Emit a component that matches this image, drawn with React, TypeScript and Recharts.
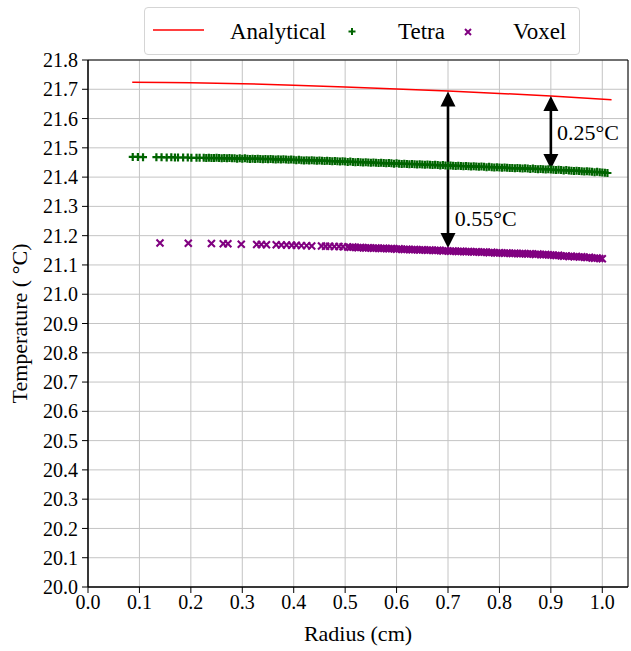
import React from 'react'
import {
  ComposedChart, Line, Scatter, XAxis, YAxis, CartesianGrid,
  ReferenceLine, ReferenceArea, ReferenceDot,
} from 'recharts'

// Temperature profile vs radius : analytical solution against the tetra and voxel meshes.

const FONT = '"Liberation Serif", "Times New Roman", Times, serif'
const RED = '#ff0000'
const GREEN = '#006400'
const PURPLE = '#800080'

const xTicks = [0, 0.1, 0.2, 0.3, 0.4, 0.5, 0.6, 0.7, 0.8, 0.9, 1.0]
const yTicks = [
  20.0, 20.1, 20.2, 20.3, 20.4, 20.5, 20.6, 20.7, 20.8, 20.9,
  21.0, 21.1, 21.2, 21.3, 21.4, 21.5, 21.6, 21.7, 21.8,
]

// [radius (cm), temperature (°C)]
const analytical: [number, number][] = [
  [0.086, 21.724], [0.15, 21.723], [0.2, 21.722], [0.3, 21.719], [0.4, 21.714], [0.5, 21.708],
  [0.6, 21.701], [0.7, 21.694], [0.8, 21.686], [0.9, 21.677], [1.018, 21.664],
]

const tetra: [number, number][] = [
  [0.087, 21.469], [0.097, 21.469], [0.107, 21.468], [0.133, 21.468], [0.143, 21.468], [0.153, 21.467],
  [0.162, 21.468], [0.169, 21.467], [0.175, 21.467], [0.185, 21.467], [0.194, 21.467], [0.201, 21.466],
  [0.211, 21.466], [0.217, 21.466],
  [0.225, 21.466], [0.23, 21.465], [0.235, 21.466], [0.24, 21.465], [0.245, 21.465], [0.25, 21.466], [0.255, 21.465], [0.26, 21.464], [0.265, 21.465], [0.27, 21.464],
  [0.275, 21.465], [0.28, 21.464], [0.285, 21.464], [0.29, 21.463], [0.295, 21.464], [0.3, 21.463], [0.305, 21.464], [0.31, 21.463], [0.315, 21.462], [0.32, 21.463],
  [0.325, 21.462], [0.33, 21.463], [0.335, 21.462], [0.34, 21.461], [0.345, 21.462], [0.35, 21.461], [0.355, 21.462], [0.36, 21.461], [0.365, 21.46], [0.37, 21.461],
  [0.375, 21.46], [0.38, 21.461], [0.385, 21.46], [0.39, 21.459], [0.395, 21.46], [0.4, 21.459], [0.405, 21.458], [0.41, 21.459], [0.415, 21.458], [0.42, 21.457],
  [0.425, 21.458], [0.43, 21.457], [0.435, 21.458], [0.44, 21.457], [0.445, 21.456], [0.45, 21.457], [0.455, 21.456], [0.46, 21.455], [0.465, 21.456], [0.47, 21.455],
  [0.475, 21.454], [0.48, 21.455], [0.485, 21.454], [0.49, 21.453], [0.495, 21.454], [0.5, 21.453], [0.505, 21.452], [0.51, 21.453], [0.515, 21.452], [0.52, 21.451],
  [0.525, 21.452], [0.53, 21.451], [0.535, 21.45], [0.54, 21.451], [0.545, 21.45], [0.55, 21.449], [0.555, 21.45], [0.56, 21.449], [0.565, 21.448], [0.57, 21.449],
  [0.575, 21.448], [0.58, 21.447], [0.585, 21.448], [0.59, 21.447], [0.595, 21.446], [0.6, 21.447], [0.605, 21.446], [0.61, 21.445], [0.615, 21.446], [0.62, 21.445],
  [0.625, 21.444], [0.63, 21.445], [0.635, 21.444], [0.64, 21.443], [0.645, 21.444], [0.65, 21.443], [0.655, 21.442], [0.66, 21.443], [0.665, 21.442], [0.67, 21.441],
  [0.675, 21.442], [0.68, 21.441], [0.685, 21.44], [0.69, 21.441], [0.695, 21.44], [0.7, 21.439], [0.705, 21.44], [0.71, 21.439], [0.715, 21.438], [0.72, 21.439],
  [0.725, 21.438], [0.73, 21.437], [0.735, 21.438], [0.74, 21.437], [0.745, 21.436], [0.75, 21.437], [0.755, 21.436], [0.76, 21.435], [0.765, 21.436], [0.77, 21.435],
  [0.775, 21.434], [0.78, 21.435], [0.785, 21.434], [0.79, 21.433], [0.795, 21.434], [0.8, 21.433], [0.805, 21.432], [0.81, 21.433], [0.815, 21.432], [0.82, 21.431],
  [0.825, 21.431], [0.83, 21.43], [0.835, 21.431], [0.84, 21.43], [0.845, 21.429], [0.85, 21.43], [0.855, 21.429], [0.86, 21.428], [0.865, 21.429], [0.87, 21.428],
  [0.875, 21.427], [0.88, 21.428], [0.885, 21.427], [0.89, 21.426], [0.895, 21.427], [0.9, 21.426], [0.905, 21.425], [0.91, 21.424], [0.915, 21.425], [0.92, 21.424],
  [0.925, 21.423], [0.93, 21.424], [0.935, 21.423], [0.94, 21.422], [0.945, 21.421], [0.95, 21.422], [0.955, 21.421], [0.96, 21.42], [0.965, 21.419], [0.97, 21.42],
  [0.975, 21.419], [0.98, 21.418], [0.985, 21.417], [0.99, 21.418], [0.995, 21.417], [1.0, 21.416], [1.005, 21.415], [1.01, 21.414],
]

const voxel: [number, number][] = [
  [0.14, 21.175], [0.195, 21.174], [0.24, 21.173], [0.263, 21.172], [0.272, 21.172], [0.298, 21.171],
  [0.328, 21.17], [0.337, 21.17], [0.347, 21.169], [0.366, 21.169], [0.376, 21.168], [0.386, 21.168],
  [0.396, 21.167], [0.405, 21.167], [0.415, 21.166], [0.425, 21.166], [0.435, 21.165], [0.454, 21.165],
  [0.462, 21.164], [0.47, 21.164], [0.479, 21.163], [0.488, 21.163], [0.496, 21.162],
  [0.505, 21.161], [0.51, 21.16], [0.515, 21.161], [0.52, 21.16], [0.525, 21.159], [0.53, 21.16], [0.535, 21.159], [0.54, 21.158], [0.545, 21.159], [0.55, 21.158],
  [0.555, 21.157], [0.56, 21.158], [0.565, 21.157], [0.57, 21.156], [0.575, 21.157], [0.58, 21.156], [0.585, 21.155], [0.59, 21.156], [0.595, 21.155], [0.6, 21.154],
  [0.605, 21.155], [0.61, 21.154], [0.615, 21.153], [0.62, 21.154], [0.625, 21.153], [0.63, 21.152], [0.635, 21.153], [0.64, 21.152], [0.645, 21.151], [0.65, 21.152],
  [0.655, 21.151], [0.66, 21.15], [0.665, 21.151], [0.67, 21.15], [0.675, 21.149], [0.68, 21.15], [0.685, 21.149], [0.69, 21.148], [0.695, 21.149], [0.7, 21.148],
  [0.705, 21.147], [0.71, 21.148], [0.715, 21.147], [0.72, 21.146], [0.725, 21.147], [0.73, 21.146], [0.735, 21.145], [0.74, 21.146], [0.745, 21.145], [0.75, 21.144],
  [0.755, 21.145], [0.76, 21.144], [0.765, 21.143], [0.77, 21.144], [0.775, 21.143], [0.78, 21.142], [0.785, 21.143], [0.79, 21.142], [0.795, 21.141], [0.8, 21.142],
  [0.805, 21.141], [0.81, 21.14], [0.815, 21.141], [0.82, 21.14], [0.825, 21.139], [0.83, 21.14], [0.835, 21.139], [0.84, 21.138], [0.845, 21.139], [0.85, 21.138],
  [0.855, 21.137], [0.86, 21.138], [0.865, 21.137], [0.87, 21.136], [0.875, 21.137], [0.88, 21.136], [0.885, 21.135], [0.89, 21.136], [0.895, 21.135], [0.9, 21.134],
  [0.905, 21.133], [0.91, 21.132], [0.915, 21.133], [0.92, 21.131], [0.925, 21.13], [0.93, 21.131], [0.935, 21.129], [0.94, 21.13], [0.945, 21.128], [0.95, 21.129],
  [0.955, 21.127], [0.96, 21.128], [0.965, 21.126], [0.97, 21.125], [0.975, 21.126], [0.98, 21.124], [0.985, 21.123], [0.99, 21.124], [0.995, 21.122], [1.0, 21.121],
]

// double arrows showing the gap between analytical and meshes
const arrowR = [0.7, 0.9]
const arrowTop = [21.692, 21.677]
const arrowBottom = [21.158, 21.428]
const gapLabels = ['0.55°C', '0.25°C']
const gapLabelR = [0.713, 0.912]
const gapLabelT = [21.26, 21.554]

const rows = (pts: [number, number][]) => pts.map(([r, t]) => ({ r, t }))

const serif = { fontFamily: FONT }

const PlusMark = ({ cx, cy }: any) => (
  <path d={`M${cx - 4},${cy}h8M${cx},${cy - 4}v8`} stroke={GREEN} strokeWidth={2.2} fill="none" />
)

const CrossMark = ({ cx, cy }: any) => (
  <path d={`M${cx - 3.5},${cy - 3.5}l7,7M${cx - 3.5},${cy + 3.5}l7,-7`} stroke={PURPLE} strokeWidth={2.1} fill="none" />
)

const DoubleArrow = (p: any) => {
  const { x1, y1, y2 } = p
  const top = Math.min(y1, y2)
  const bot = Math.max(y1, y2)
  const hw = 7.5
  const hl = 15
  return (
    <g>
      <line x1={x1} y1={top + hl - 1} x2={x1} y2={bot - hl + 1} stroke="#000" strokeWidth={2.6} />
      <path d={`M${x1},${top}L${x1 - hw},${top + hl}L${x1 + hw},${top + hl}Z`} fill="#000" />
      <path d={`M${x1},${bot}L${x1 - hw},${bot - hl}L${x1 + hw},${bot - hl}Z`} fill="#000" />
    </g>
  )
}

const YLabel = (props: any) => {
  const vb = props.viewBox
  const cx = 19
  const cy = vb.y + vb.height / 2
  return (
    <text x={cx} y={cy} transform={`rotate(-90, ${cx}, ${cy})`} textAnchor="middle" dominantBaseline="central"
      style={serif} fontSize={22} fill="#000">
      Temperature ( °C)
    </text>
  )
}

const XLabel = (props: any) => {
  const vb = props.viewBox
  return (
    <text x={vb.x + vb.width / 2} y={vb.y + 46} textAnchor="middle" dominantBaseline="central"
      style={serif} fontSize={22} fill="#000">
      Radius (cm)
    </text>
  )
}

const tickStyle = { fontSize: 20, fill: '#000', style: serif }

function LegendBox() {
  return (
    <div style={{
      position: 'absolute', left: 144, top: 7, width: 436, height: 48,
      border: '1px solid #d5d5d5', borderRadius: 4, background: 'rgba(255,255,255,0.8)', boxSizing: 'border-box',
    }}>
      <svg width={436} height={48} style={{ display: 'block' }}>
        <line x1={8} y1={22} x2={59} y2={22} stroke={RED} strokeWidth={1.5} />
        <text x={85} y={23} style={serif} fontSize={23} dominantBaseline="central">Analytical</text>
        <path d="M207,20v7M203.5,23.5h7" stroke={GREEN} strokeWidth={2} />
        <text x={253} y={23} style={serif} fontSize={23} dominantBaseline="central">Tetra</text>
        <path d="M320,21l6,6M320,27l6,-6" stroke={PURPLE} strokeWidth={2} />
        <text x={368} y={23} style={serif} fontSize={23} dominantBaseline="central">Voxel</text>
      </svg>
    </div>
  )
}

export default function App() {
  return (
    <div style={{ position: 'absolute', left: 0, top: 0, width: 631, height: 651, background: '#fff', fontFamily: FONT }}>
      <style>{`.recharts-wrapper text { font-family: ${FONT}; }`}</style>
      <ComposedChart width={631} height={651} margin={{ top: 60, right: 3, bottom: 0, left: 0 }}>
        <CartesianGrid stroke="#c4c4c4" strokeWidth={1} />
        <XAxis
          type="number" dataKey="r" domain={[0, 1.05]} ticks={xTicks} allowDataOverflow
          tickFormatter={(v: number) => v.toFixed(1)} tick={tickStyle} height={64}
          tickSize={6} tickMargin={2} stroke="#000" label={<XLabel />}
        />
        <YAxis
          type="number" dataKey="t" domain={[20, 21.8]} ticks={yTicks} allowDataOverflow
          tickFormatter={(v: number) => v.toFixed(1)} tick={tickStyle} width={88}
          tickSize={6} tickMargin={4} stroke="#000" label={<YLabel />}
        />
        <ReferenceArea x1={0} x2={1.05} y1={20} y2={21.8} fill="none" stroke="#000" strokeWidth={1} fillOpacity={0} />
        <Line data={rows(analytical)} dataKey="t" stroke={RED} strokeWidth={1.5} dot={false} type="linear" isAnimationActive={false} />
        <Scatter data={rows(tetra)} dataKey="t" shape={<PlusMark />} isAnimationActive={false} />
        <Scatter data={rows(voxel)} dataKey="t" shape={<CrossMark />} isAnimationActive={false} />
        {arrowR.map((r, i) => (
          <ReferenceLine key={`a${i}`} segment={[{ x: r, y: arrowTop[i] }, { x: r, y: arrowBottom[i] }]} shape={DoubleArrow} />
        ))}
        {gapLabels.map((lab, i) => (
          <ReferenceDot
            key={`l${i}`} x={gapLabelR[i]} y={gapLabelT[i]} r={0}
            shape={(p: any) => (
              <text x={p.cx} y={p.cy} dominantBaseline="central" style={serif} fontSize={22} fill="#000">{lab}</text>
            )}
          />
        ))}
      </ComposedChart>
      <LegendBox />
    </div>
  )
}
